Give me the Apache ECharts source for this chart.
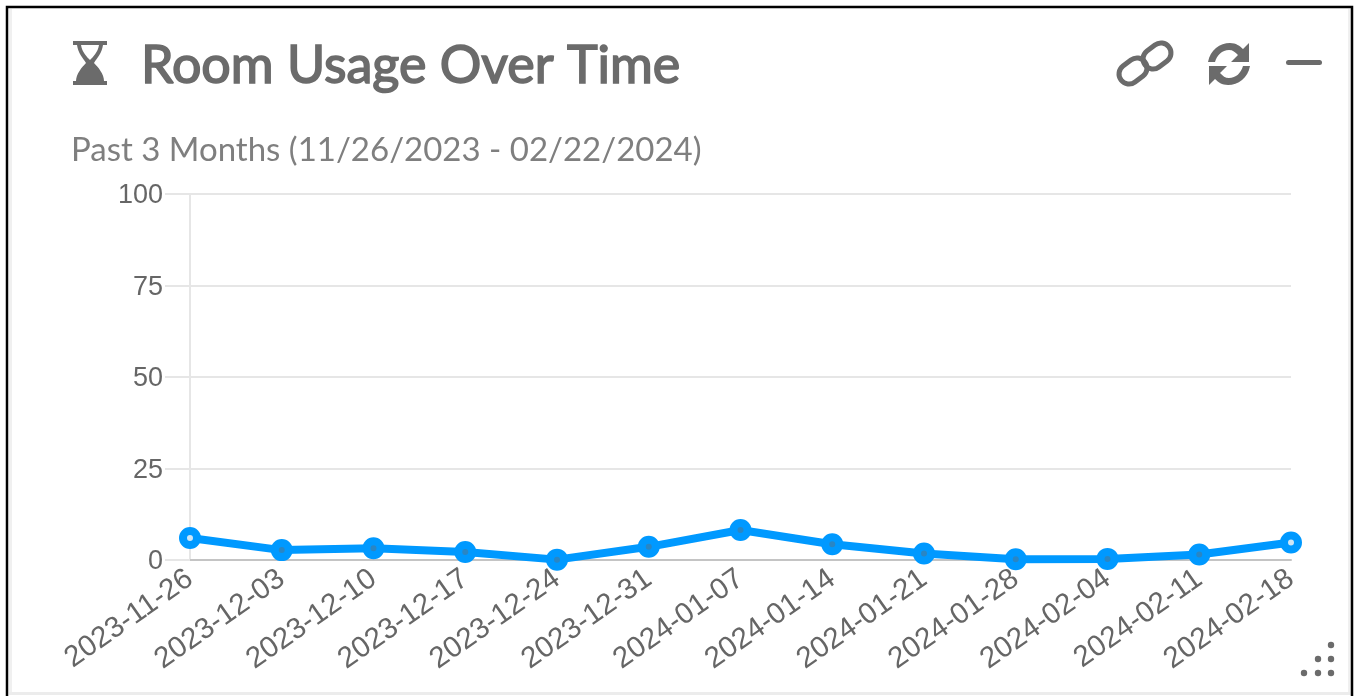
<!DOCTYPE html>
<html>
<head>
<meta charset="utf-8">
<script src="https://cdn.jsdelivr.net/npm/echarts@6/dist/echarts.min.js"></script>
<style>
html,body{margin:0;padding:0;background:#fff;}
#c{width:1354px;height:696px;}
</style>
</head>
<body>
<div id="c"></div>
<script>
const categories = ['2023-11-26','2023-12-03','2023-12-10','2023-12-17','2023-12-24','2023-12-31','2024-01-07','2024-01-14','2024-01-21','2024-01-28','2024-02-04','2024-02-11','2024-02-18'];
const usage = [6.0,2.7,3.2,2.2,0.1,3.6,8.2,4.3,1.8,0.2,0.3,1.5,4.8];
const yTicks = {min:0,max:100,interval:25};
const titleText = 'Room Usage Over Time';
const subtitleText = 'Past 3 Months (11/26/2023 - 02/22/2024)';

echarts.graphic.registerShape('iconHourglass', echarts.graphic.extendPath('M73 41H107V45H103C102 53 97 58 94 63C98 67 104 74 104 81H107V85H73V81H76C76 74 82 67 86 63C83 58 78 53 77 45H73ZM81 45C82 52 87 57 90 60C93 57 98 52 99 45Z', {}));
echarts.graphic.registerShape('iconRefresh', echarts.graphic.extendPath('M1208 62C1210 50 1220 43 1230 43C1236 43 1240 46 1243 49L1249 43V62H1231L1238 55C1235 52 1233 50 1229 50C1222 50 1217 55 1215 62ZM1250 66C1248 78 1238 85 1228 85C1222 85 1218 82 1215 79L1209 85V66H1227L1220 73C1223 76 1225 78 1229 78C1236 78 1241 73 1243 66Z', {}));

const chart = echarts.init(document.getElementById('c'), null, {renderer:'canvas'});
chart.setOption({
  animation:false,
  backgroundColor:'#fff',
  title:[
    {text:titleText,left:141,top:40,padding:0,textStyle:{fontFamily:'Lato',fontSize:52,fontWeight:'normal',color:'#6b6b6b',textBorderColor:'#6b6b6b',textBorderWidth:1.6}},
    {text:subtitleText,left:71,top:134,padding:0,textStyle:{fontFamily:'Lato',fontSize:33,fontWeight:'normal',color:'#7f7f7f'}}
  ],
  grid:{left:190,top:194,width:1101,height:366,containLabel:false},
  xAxis:{
    type:'category',boundaryGap:false,data:categories,
    axisLine:{lineStyle:{color:'#c4c4c4',width:2}},
    axisTick:{show:false},
    splitLine:{show:false},
    axisLabel:{rotate:35,interval:0,margin:16,fontFamily:'Liberation Sans',fontSize:29.5,color:'#666'}
  },
  yAxis:{
    type:'value',min:yTicks.min,max:yTicks.max,interval:yTicks.interval,
    axisLine:{show:true,lineStyle:{color:'#e6e6e6',width:2}},
    axisTick:{show:true,length:25,lineStyle:{color:'#e6e6e6',width:2}},
    splitLine:{lineStyle:{color:'#e6e6e6',width:2}},
    axisLabel:{margin:27,formatter:'{a|{value}}',rich:{a:{fontFamily:'Liberation Sans',fontSize:27,color:'#666',padding:[4,0,0,0]}}}
  },
  series:[{
    type:'line',
    data:usage.map((v,i)=>(i===0||i===usage.length-1)?{value:v,itemStyle:{color:'#cfe6f5'}}:v),
    symbol:'circle',symbolSize:14,showSymbol:true,clip:false,
    lineStyle:{color:'#0099ff',width:8},
    itemStyle:{color:'#2a86c4',borderColor:'#0099ff',borderWidth:8}
  }],
  graphic:[
    {type:'rect',silent:true,shape:{x:9,y:9,width:3,height:684},style:{fill:'#f0f0f0'}},
    {type:'rect',silent:true,shape:{x:1348,y:9,width:3,height:684},style:{fill:'#f0f0f0'}},
    {type:'rect',silent:true,shape:{x:9,y:692,width:1342,height:3},style:{fill:'#ececec'}},
    {type:'polyline',silent:true,shape:{points:[[7,696],[7,7],[1352,7],[1352,696]]},style:{fill:'none',stroke:'#000',lineWidth:2.5}},
    {type:'iconHourglass',silent:true,style:{fill:'#6b6b6b'}},
    {type:'rect',silent:true,rotation:0.65,originX:1133,originY:71,shape:{x:1118,y:61,width:30,height:20,r:10},style:{fill:'none',stroke:'#6b6b6b',lineWidth:5}},
    {type:'rect',silent:true,rotation:0.65,originX:1157,originY:56,shape:{x:1142,y:46,width:30,height:20,r:10},style:{fill:'none',stroke:'#6b6b6b',lineWidth:5}},
    {type:'iconRefresh',silent:true,style:{fill:'#6b6b6b'}},
    {type:'rect',silent:true,shape:{x:1286,y:60,width:36,height:5,r:2.5},style:{fill:'#6b6b6b'}},
    ...[[1331,645],[1318,659],[1331,659],[1304,673],[1318,673],[1331,673]].map(p=>({type:'circle',silent:true,shape:{cx:p[0],cy:p[1],r:3.2},style:{fill:'#6b6b6b'}}))
  ]
});
</script>
</body>
</html>
